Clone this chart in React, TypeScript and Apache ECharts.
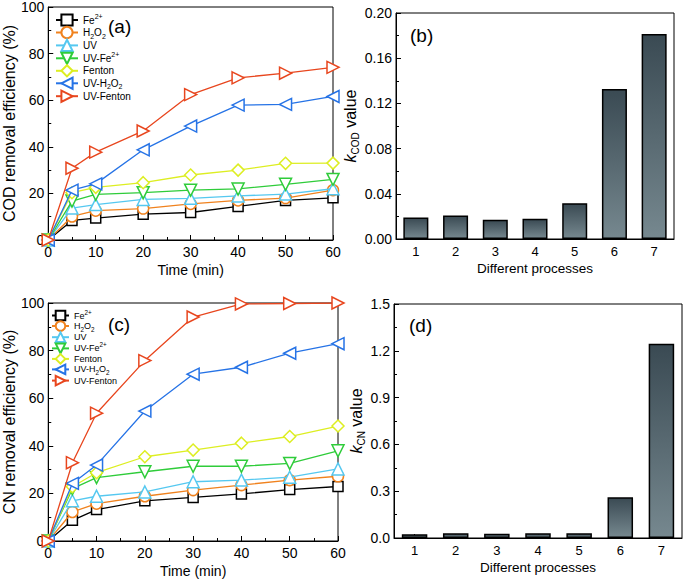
import React, { useEffect, useRef } from "react";
import * as echarts from "echarts";

const times = [0, 5, 10, 20, 30, 40, 50, 60];
const seriesNames = ["Fe2+", "H2O2", "UV", "UV-Fe2+", "Fenton", "UV-H2O2", "UV-Fenton"];
const seriesColors = ["#000000", "#F0821E", "#55C8F0", "#2FCC3A", "#DDEE22", "#2673E6", "#E8461E"];

// COD removal efficiency (%)
const codFe = [0, 8.4, 9.4, 11.1, 11.8, 14.4, 17.0, 18.1];
const codH2O2 = [0, 10.1, 12.6, 13.5, 15.5, 17.0, 18.0, 21.4];
const codUV = [0, 13.7, 15.2, 17.4, 17.9, 18.9, 19.7, 22.0];
const codUVFe = [0, 16.7, 19.6, 20.3, 21.4, 21.9, 23.9, 26.0];
const codFenton = [0, 20.3, 22.6, 24.6, 27.9, 30.0, 32.9, 33.0];
const codUVH2O2 = [0, 21.4, 24.1, 38.7, 48.9, 57.9, 58.2, 61.6];
const codUVFenton = [0, 30.8, 37.7, 46.8, 62.4, 69.6, 71.6, 74.1];

// CN removal efficiency (%)
const cnFe = [0, 8.7, 13.2, 16.9, 18.3, 19.8, 21.6, 22.9];
const cnH2O2 = [0, 12.2, 15.7, 18.8, 21.4, 23.5, 25.6, 27.2];
const cnUV = [0, 16.9, 18.8, 20.6, 24.9, 25.6, 26.8, 30.3];
const cnUVFe = [0, 22.0, 26.6, 29.1, 31.4, 31.4, 32.6, 37.9];
const cnFenton = [0, 22.8, 28.7, 35.4, 38.2, 41.1, 43.9, 48.3];
const cnUVH2O2 = [0, 24.2, 31.9, 54.6, 70.1, 73.0, 78.9, 82.9];
const cnUVFenton = [0, 32.9, 53.7, 75.8, 94.1, 99.6, 99.8, 100];

// rate constants
const processes = ["1", "2", "3", "4", "5", "6", "7"];
const kCOD = [0.0191, 0.0208, 0.017, 0.0179, 0.0317, 0.1327, 0.1815];
const kCN = [0.024, 0.03, 0.028, 0.03, 0.03, 0.262, 1.245];

const codData = [codFe, codH2O2, codUV, codUVFe, codFenton, codUVH2O2, codUVFenton];
const cnData = [cnFe, cnH2O2, cnUV, cnUVFe, cnFenton, cnUVH2O2, cnUVFenton];

const symbols = [
  "rect",
  "circle",
  "path://M5,0L10,9L0,9Z",
  "path://M0,0L10,0L5,9Z",
  "diamond",
  "path://M0,5L9,0L9,10Z",
  "path://M0,0L9,5L0,10Z",
];
const symbolSizes = [10, 11, 12, 12, 12, 12, 12];

const FONT = "Liberation Sans, Arial, sans-serif";

const legendFmt = (n: string) => {
  const m: Record<string, string> = {
    "Fe2+": "{t|Fe}{sup|2+}",
    H2O2: "{t|H}{sub|2}{t|O}{sub|2}",
    "UV-Fe2+": "{t|UV-Fe}{sup|2+}",
    "UV-H2O2": "{t|UV-H}{sub|2}{t|O}{sub|2}",
  };
  return m[n] ?? `{t|${n}}`;
};

export default function App() {
  const ref = useRef<HTMLDivElement>(null);
  useEffect(() => {
    if (!ref.current) return;
    const chart = echarts.init(ref.current, undefined, { renderer: "svg" });

    const grids = [
      { left: 42, top: 7, width: 291, height: 233 },
      { left: 396, top: 13, width: 278, height: 226 },
      { left: 42, top: 303, width: 296, height: 238 },
      { left: 394, top: 304, width: 288, height: 234 },
    ].map((g) => ({ ...g, show: true, borderColor: "#000", borderWidth: 1, backgroundColor: "transparent" }));

    const axisCommon = {
      axisLine: { show: true, onZero: false, lineStyle: { color: "#000", width: 1 } },
      axisTick: { show: true, inside: true, length: 5, lineStyle: { color: "#000" } },
      minorTick: { show: true, splitNumber: 2, length: 3, lineStyle: { color: "#000" } },
      splitLine: { show: false },
      axisLabel: { color: "#000", fontSize: 14, fontFamily: FONT },
      nameTextStyle: { color: "#000", fontSize: 14, fontFamily: FONT },
    };

    const timeAxis = (gi: number, gap: number) => ({
      ...axisCommon,
      type: "value",
      gridIndex: gi,
      min: 0,
      max: 60,
      interval: 10,
      name: "Time (min)",
      nameLocation: "middle",
      nameGap: gap,
      axisLabel: { ...axisCommon.axisLabel, margin: 5 },
    });

    const procAxis = (gi: number, gap: number) => ({
      ...axisCommon,
      type: "category",
      gridIndex: gi,
      data: processes,
      name: "Different processes",
      nameLocation: "middle",
      nameGap: gap,
      nameTextStyle: { color: "#000", fontSize: 13.5, fontFamily: FONT },
      axisTick: { show: true, inside: true, alignWithLabel: true, length: 4, lineStyle: { color: "#000" } },
      minorTick: { show: false },
      axisLabel: { ...axisCommon.axisLabel, fontSize: 13, margin: 6 },
    });

    const ytitle = { color: "#000", fontSize: 16, fontFamily: FONT };
    const kRich = {
      i: { fontStyle: "italic", fontSize: 16, fontFamily: FONT, color: "#000" },
      s: { fontSize: 10, fontFamily: FONT, color: "#000", verticalAlign: "bottom", lineHeight: 20 },
      t: { fontSize: 16, fontFamily: FONT, color: "#000" },
    };

    const lineSeries = (data: number[][], xi: number) =>
      seriesNames.map((name, i) => ({
        type: "line",
        name,
        xAxisIndex: xi,
        yAxisIndex: xi,
        data: times.map((t, j) => [t, data[i][j]]),
        symbol: symbols[i],
        symbolSize: symbolSizes[i],
        showAllSymbol: true,
        lineStyle: { color: seriesColors[i], width: 1.3 },
        itemStyle: { color: "#fff", borderColor: seriesColors[i], borderWidth: 1.5 },
        z: 2 + i,
      }));

    const barGrad = new echarts.graphic.LinearGradient(0, 0, 0, 1, [
      { offset: 0, color: "#3a4a53" },
      { offset: 1, color: "#76888f" },
    ]);

    const legendRich = (fs: number) => ({
      t: { fontSize: fs, fontFamily: FONT, color: "#000", lineHeight: fs + 4 },
      sup: { fontSize: fs * 0.7, fontFamily: FONT, color: "#000", verticalAlign: "top", lineHeight: fs + 4 },
      sub: { fontSize: fs * 0.7, fontFamily: FONT, color: "#000", verticalAlign: "bottom", lineHeight: fs + 4 },
    });

    chart.setOption({
      animation: false,
      backgroundColor: "#fff",
      textStyle: { fontFamily: FONT },
      grid: grids,
      legend: [
        {
          orient: "vertical",
          left: 55,
          top: 13,
          itemWidth: 22,
          itemHeight: 14,
          itemGap: -0.7,
          padding: 0,
          data: seriesNames,
          formatter: legendFmt,
          textStyle: { fontSize: 10, fontFamily: FONT, color: "#000", rich: legendRich(10) },
          selectedMode: false,
        },
        {
          orient: "vertical",
          left: 51,
          top: 309,
          itemWidth: 17,
          itemHeight: 12,
          itemGap: -1.1,
          padding: 0,
          data: seriesNames,
          formatter: legendFmt,
          textStyle: { fontSize: 9, fontFamily: FONT, color: "#000", rich: legendRich(9) },
          selectedMode: false,
        },
      ],
      xAxis: [timeAxis(0, 23), procAxis(1, 22), timeAxis(2, 23), procAxis(3, 22)],
      yAxis: [
        {
          ...axisCommon,
          type: "value",
          gridIndex: 0,
          min: 0,
          max: 100,
          interval: 20,
          name: "COD removal efficiency (%)",
          nameLocation: "middle",
          nameGap: 27,
          nameTextStyle: ytitle,
          axisLabel: { ...axisCommon.axisLabel, margin: 4 },
        },
        {
          ...axisCommon,
          type: "value",
          gridIndex: 1,
          min: 0,
          max: 0.2,
          interval: 0.04,
          name: "{i|k}{s|COD}{t| value}",
          nameLocation: "middle",
          nameGap: 33,
          nameTextStyle: { ...ytitle, rich: kRich },
          axisLabel: { ...axisCommon.axisLabel, margin: 4, formatter: (v: number) => v.toFixed(2) },
        },
        {
          ...axisCommon,
          type: "value",
          gridIndex: 2,
          min: 0,
          max: 100,
          interval: 20,
          name: "CN removal efficiency (%)",
          nameLocation: "middle",
          nameGap: 27,
          nameTextStyle: ytitle,
          axisLabel: { ...axisCommon.axisLabel, margin: 4 },
        },
        {
          ...axisCommon,
          type: "value",
          gridIndex: 3,
          min: 0,
          max: 1.5,
          interval: 0.3,
          name: "{i|k}{s|CN}{t| value}",
          nameLocation: "middle",
          nameGap: 28,
          nameTextStyle: { ...ytitle, rich: kRich },
          axisLabel: { ...axisCommon.axisLabel, margin: 4, formatter: (v: number) => v.toFixed(1) },
        },
      ],
      series: [
        ...lineSeries(codData, 0).map((s) => ({ ...s, xAxisIndex: 0, yAxisIndex: 0 })),
        {
          type: "bar",
          name: "kCOD",
          xAxisIndex: 1,
          yAxisIndex: 1,
          data: kCOD,
          barWidth: "63%",
          itemStyle: { color: barGrad, borderColor: "#000", borderWidth: 1.5 },
        },
        ...lineSeries(cnData, 2).map((s) => ({ ...s, xAxisIndex: 2, yAxisIndex: 2 })),
        {
          type: "bar",
          name: "kCN",
          xAxisIndex: 3,
          yAxisIndex: 3,
          data: kCN,
          barWidth: "62%",
          itemStyle: { color: barGrad, borderColor: "#000", borderWidth: 1.5 },
        },
      ],
      graphic: [
        { type: "text", left: 108, top: 17, style: { text: "(a)", font: `19px ${FONT}`, fill: "#000" } },
        { type: "text", left: 410, top: 26, style: { text: "(b)", font: `19px ${FONT}`, fill: "#000" } },
        { type: "text", left: 108, top: 315, style: { text: "(c)", font: `19px ${FONT}`, fill: "#000" } },
        { type: "text", left: 409, top: 316, style: { text: "(d)", font: `19px ${FONT}`, fill: "#000" } },
      ],
    });
    return () => chart.dispose();
  }, []);
  return <div ref={ref} style={{ position: "absolute", left: 0, top: 0, width: 685, height: 583 }} />;
}
